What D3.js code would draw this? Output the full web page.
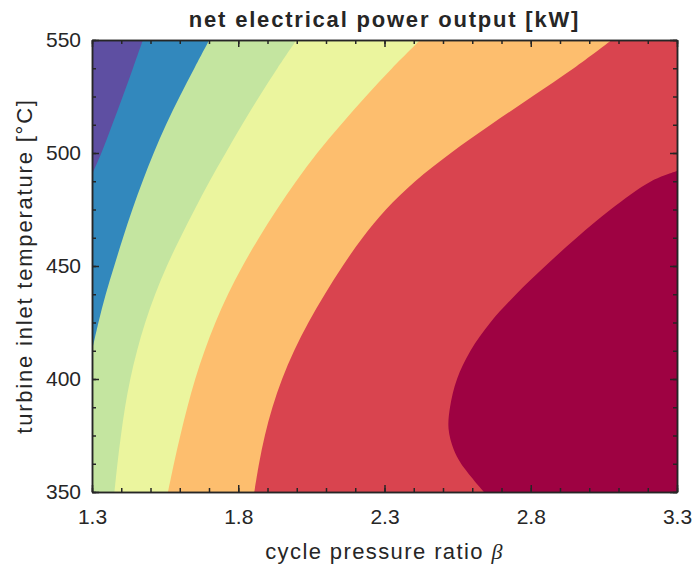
<!DOCTYPE html>
<html>
<head>
<meta charset="utf-8">
<script src="https://cdn.jsdelivr.net/npm/d3@7"></script>
<style>
  body { margin: 0; background: #fff; }
  text { font-family: "Liberation Sans", Arial, sans-serif; fill: #262626; }
</style>
</head>
<body>
<script>
// contour boundaries (beta where each colour change sits)
// rows are turbine inlet temperatures every 12.5 degC, top to bottom
var tempRows = [550, 537.5, 525, 512.5, 500, 487.5, 475, 462.5, 450, 437.5, 425, 412.5, 400, 387.5, 375, 362.5, 350];
var purpleBlue = [1.474, 1.440, 1.405, 1.369, 1.332];          // then meets the left edge
var blueGreen = [1.701, 1.650, 1.600, 1.553, 1.511, 1.473, 1.438, 1.406, 1.376, 1.347, 1.322, 1.300];
var greenYellow = [1.999, 1.934, 1.872, 1.813, 1.757, 1.702, 1.651, 1.602, 1.556, 1.516, 1.482, 1.454, 1.431, 1.413, 1.399, 1.387, 1.377];
var yellowOrange = [2.422, 2.326, 2.236, 2.151, 2.070, 1.998, 1.932, 1.871, 1.815, 1.765, 1.722, 1.685, 1.653, 1.626, 1.602, 1.580, 1.560];
var orangeRed = [3.077, 2.947, 2.805, 2.663, 2.527, 2.405, 2.305, 2.225, 2.157, 2.096, 2.040, 1.991, 1.950, 1.917, 1.891, 1.871, 1.855];
// the dark pocket on the right, [beta, temperature]
var redDark = [[3.3, 492], [3.212, 487.5], [3.073, 475], [2.957, 462.5], [2.850, 450], [2.750, 437.5], [2.662, 425],
  [2.594, 412.5], [2.548, 400], [2.524, 387.5], [2.519, 378], [2.536, 369], [2.562, 362.5], [2.640, 350]];

var bandColors = ["#5e4fa2", "#3288bd", "#c4e5a0", "#ebf59e", "#fdbe6e", "#d9444f", "#9e0242"];
var xTicks = [1.3, 1.8, 2.3, 2.8, 3.3];
var yTicks = [350, 400, 450, 500, 550];

var width = 696, height = 568;
var margin = { left: 92, right: 19, top: 40, bottom: 76 };

var svg = d3.select("body").append("svg")
  .attr("width", width)
  .attr("height", height);

var x = d3.scaleLinear().domain([1.3, 3.3]).range([margin.left, width - margin.right]);
var y = d3.scaleLinear().domain([350, 550]).range([height - margin.bottom, margin.top]);

svg.append("clipPath").attr("id", "plot")
  .append("rect")
  .attr("x", x(1.3)).attr("y", y(550))
  .attr("width", x(3.3) - x(1.3)).attr("height", y(350) - y(550));

var g = svg.append("g").attr("clip-path", "url(#plot)");

// background is the lowest band
g.append("rect")
  .attr("x", x(1.3)).attr("y", y(550))
  .attr("width", x(3.3) - x(1.3)).attr("height", y(350) - y(550))
  .attr("fill", bandColors[0]);

var line = d3.line()
  .x(function(d) { return x(d[0]); })
  .y(function(d) { return y(d[1]); })
  .curve(d3.curveCatmullRom.alpha(0.5));

function rows(betas) {
  return betas.map(function(b, i) { return [b, tempRows[i]]; });
}

// each band is everything right of its boundary, drawn over the previous one
var bands = [
  { pts: rows(purpleBlue).concat([[1.3, 490.5]]), corners: [[1.3, 350], [3.3, 350], [3.3, 550]] },
  { pts: rows(blueGreen), corners: [[1.3, 350], [3.3, 350], [3.3, 550]] },
  { pts: rows(greenYellow), corners: [[3.3, 350], [3.3, 550]] },
  { pts: rows(yellowOrange), corners: [[3.3, 350], [3.3, 550]] },
  { pts: rows(orangeRed), corners: [[3.3, 350], [3.3, 550]] },
  { pts: redDark, corners: [[3.3, 350]] }
];

bands.forEach(function(b, i) {
  var d = line(b.pts) + b.corners.map(function(c) {
    return "L" + x(c[0]) + "," + y(c[1]);
  }).join("") + "Z";
  g.append("path")
    .attr("d", d)
    .attr("fill", bandColors[i + 1]);
});

// axes, ticks point inward on all four sides
var xMinor = d3.range(13, 34).map(function(v) { return v / 10; });
var yMinor = d3.range(0, 17).map(function(v) { return 350 + v * 12.5; });

function styleAxis(sel) {
  sel.selectAll("path").attr("stroke", "#262626").attr("stroke-width", 1.5);
  sel.selectAll("line").attr("stroke", "#262626").attr("stroke-width", 1.5);
  sel.selectAll("text").attr("font-size", "21px").attr("fill", "#262626")
    .style("font-family", "'Liberation Sans', Arial, sans-serif");
}

svg.append("g").attr("transform", "translate(0," + y(350) + ")")
  .call(d3.axisBottom(x).tickValues(xMinor).tickFormat("").tickSize(-4).tickSizeOuter(0)).call(styleAxis);
svg.append("g").attr("transform", "translate(0," + y(550) + ")")
  .call(d3.axisTop(x).tickValues(xMinor).tickFormat("").tickSize(-4).tickSizeOuter(0)).call(styleAxis);
svg.append("g").attr("transform", "translate(" + x(1.3) + ",0)")
  .call(d3.axisLeft(y).tickValues(yMinor).tickFormat("").tickSize(-4).tickSizeOuter(0)).call(styleAxis);
svg.append("g").attr("transform", "translate(" + x(3.3) + ",0)")
  .call(d3.axisRight(y).tickValues(yMinor).tickFormat("").tickSize(-4).tickSizeOuter(0)).call(styleAxis);

svg.append("g").attr("transform", "translate(0," + y(350) + ")")
  .call(d3.axisBottom(x).tickValues(xTicks).tickFormat(d3.format(".1f")).tickSize(-7).tickSizeOuter(0).tickPadding(17))
  .call(styleAxis);
svg.append("g").attr("transform", "translate(0," + y(550) + ")")
  .call(d3.axisTop(x).tickValues(xTicks).tickFormat("").tickSize(-7).tickSizeOuter(0)).call(styleAxis);
svg.append("g").attr("transform", "translate(" + x(1.3) + ",0)")
  .call(d3.axisLeft(y).tickValues(yTicks).tickSize(-7).tickSizeOuter(0).tickPadding(11))
  .call(styleAxis);
svg.append("g").attr("transform", "translate(" + x(3.3) + ",0)")
  .call(d3.axisRight(y).tickValues(yTicks).tickFormat("").tickSize(-7).tickSizeOuter(0)).call(styleAxis);

// title and labels
svg.append("text")
  .attr("x", (x(1.3) + x(3.3)) / 2)
  .attr("y", 27)
  .attr("text-anchor", "middle")
  .attr("font-size", "22px")
  .attr("font-weight", "bold")
  .attr("letter-spacing", "1.8px")
  .attr("fill", "#000")
  .text("net electrical power output [kW]");

var xl = svg.append("text")
  .attr("x", (x(1.3) + x(3.3)) / 2)
  .attr("y", 559)
  .attr("text-anchor", "middle")
  .attr("font-size", "22px")
  .attr("letter-spacing", "1.4px");
xl.append("tspan").text("cycle pressure ratio ");
xl.append("tspan")
  .style("font-family", "'Liberation Serif', serif")
  .style("font-style", "italic")
  .text("β");

svg.append("text")
  .attr("transform", "translate(32," + (y(350) + y(550)) / 2 + ") rotate(-90)")
  .attr("text-anchor", "middle")
  .attr("font-size", "22px")
  .attr("letter-spacing", "1.8px")
  .text("turbine inlet temperature [°C]");
</script>
</body>
</html>
